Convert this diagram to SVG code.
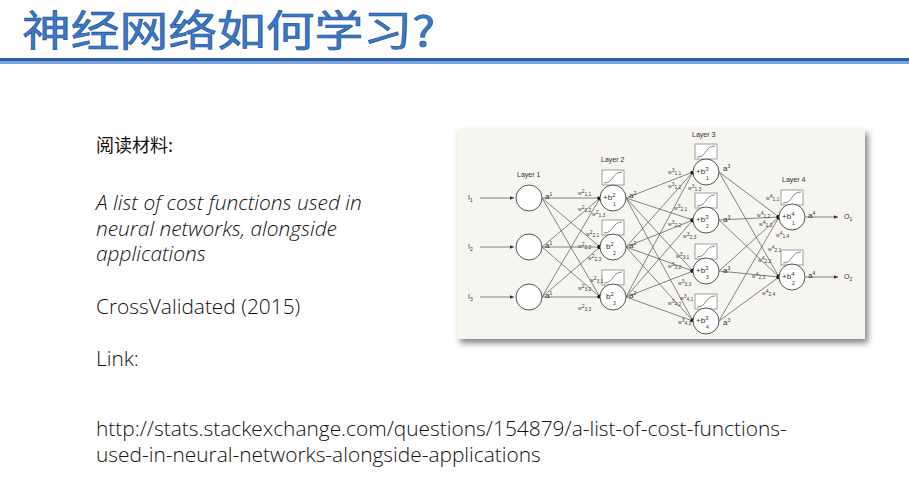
<svg xmlns="http://www.w3.org/2000/svg" width="909" height="490" viewBox="0 0 909 490">
<defs>
<style>
.t{font-family:"Open Sans","Noto Sans CJK SC",sans-serif;font-weight:300;font-size:20.9px;fill:#111}
.cn{font-family:"Noto Sans CJK SC",sans-serif;font-weight:400;font-size:18px;fill:#111}
.nn{font-family:"Liberation Sans",sans-serif;fill:#333}
.n{fill:#fff;stroke:#555;stroke-width:1}
.e{stroke:#666;stroke-width:0.8;fill:none}
.sb{fill:#fff;stroke:#888;stroke-width:0.8}
.w{font-family:"Liberation Sans",sans-serif;font-size:5px;fill:#444}
</style>
<marker id="ar" markerWidth="6" markerHeight="6" refX="5" refY="3" orient="auto"><path d="M0,0.8L5,3L0,5.2z" fill="#333"/></marker>
<marker id="dt" markerWidth="4" markerHeight="4" refX="3.5" refY="2" orient="auto"><circle cx="2" cy="2" r="1.8" fill="#111"/></marker>
<filter id="sh" x="-5%" y="-5%" width="115%" height="120%"><feGaussianBlur in="SourceAlpha" stdDeviation="3"/><feOffset dx="3" dy="4"/><feComponentTransfer><feFuncA type="linear" slope="0.5"/></feComponentTransfer><feMerge><feMergeNode/><feMergeNode in="SourceGraphic"/></feMerge></filter>
</defs>
<rect width="909" height="490" fill="#fff"/>
<g id="title">
<text x="22" y="46" font-family="'Noto Sans CJK SC',sans-serif" font-size="42" font-weight="400" fill="#3a78c9" stroke="#1f4e8c" stroke-width="0.6" textLength="413" lengthAdjust="spacingAndGlyphs">神经网络如何学习?</text>
<rect x="0" y="58" width="909" height="3" fill="#2d5fa8"/>
<rect x="0" y="61" width="909" height="3" fill="#7aa6dc"/>
</g>
<g id="text">
<text class="cn" x="96" y="152">阅读材料:</text>
<text class="t" x="96" y="210" font-style="italic">A list of cost functions used in</text>
<text class="t" x="96" y="236" font-style="italic">neural networks, alongside</text>
<text class="t" x="96" y="261" font-style="italic">applications</text>
<text class="t" x="96" y="314">CrossValidated (2015)</text>
<text class="t" x="96" y="366">Link:</text>
<text class="t" x="96" y="436">http://stats.stackexchange.com/questions/154879/a-list-of-cost-functions-</text>
<text class="t" x="96" y="462">used-in-neural-networks-alongside-applications</text>
</g>
<g id="figure">
<rect x="457" y="129" width="408" height="210" fill="#f6f5f0" filter="url(#sh)"/>
<g id="connectors">
<g class="e" marker-end="url(#dt)">
<path d="M480 198H514" marker-end="url(#ar)"/><path d="M480 247H514" marker-end="url(#ar)"/><path d="M480 297H514" marker-end="url(#ar)"/>
<path d="M542 198L600 198"/><path d="M542 198L600 247"/><path d="M542 198L600 297"/>
<path d="M542 247L600 198"/><path d="M542 247L600 247"/><path d="M542 247L600 297"/>
<path d="M542 297L600 198"/><path d="M542 297L600 247"/><path d="M542 297L600 297"/>
<path d="M626 198L693 172"/><path d="M626 198L693 220"/><path d="M626 198L693 271"/><path d="M626 198L693 321"/>
<path d="M626 247L693 172"/><path d="M626 247L693 220"/><path d="M626 247L693 271"/><path d="M626 247L693 321"/>
<path d="M626 297L693 172"/><path d="M626 297L693 220"/><path d="M626 297L693 271"/><path d="M626 297L693 321"/>
<path d="M719 172L779 217"/><path d="M719 172L779 277"/><path d="M719 220L779 217"/><path d="M719 220L779 277"/>
<path d="M719 271L779 217"/><path d="M719 271L779 277"/><path d="M719 321L779 217"/><path d="M719 321L779 277"/>
<path d="M805 217H838" marker-end="url(#ar)"/><path d="M805 277H838" marker-end="url(#ar)"/>
</g>
</g>
<g class="nn" font-size="7">
<text x="517" y="177">Layer 1</text><text x="601" y="162">Layer 2</text><text x="692" y="137">Layer 3</text><text x="782" y="182">Layer 4</text>
<text x="468" y="200">I<tspan font-size="5" dy="2">1</tspan></text>
<text x="468" y="249">I<tspan font-size="5" dy="2">2</tspan></text>
<text x="468" y="299">I<tspan font-size="5" dy="2">3</tspan></text>
<text x="844" y="219">O<tspan font-size="5" dy="2">1</tspan></text>
<text x="844" y="279">O<tspan font-size="5" dy="2">2</tspan></text>
</g>
<g id="sig" class="e">
<rect class="sb" x="602" y="170" width="22" height="15"/><rect class="sb" x="602" y="220" width="22" height="15"/><rect class="sb" x="602" y="270" width="22" height="15"/>
<rect class="sb" x="695" y="144" width="22" height="15"/><rect class="sb" x="695" y="193" width="22" height="15"/><rect class="sb" x="695" y="244" width="22" height="15"/><rect class="sb" x="695" y="294" width="22" height="15"/>
<rect class="sb" x="781" y="190" width="22" height="15"/><rect class="sb" x="781" y="250" width="22" height="15"/>
<path d="M604 183C614 183 612 172 622 172M604 233C614 233 612 222 622 222M604 283C614 283 612 272 622 272M697 157C707 157 705 146 715 146M697 206C707 206 705 195 715 195M697 257C707 257 705 246 715 246M697 307C707 307 705 296 715 296M783 203C793 203 791 192 801 192M783 263C793 263 791 252 801 252"/>
</g>
<g id="nodes">
<circle class="n" cx="529" cy="198" r="13"/><circle class="n" cx="529" cy="247" r="13"/><circle class="n" cx="529" cy="297" r="13"/>
<circle class="n" cx="613" cy="198" r="13"/><circle class="n" cx="613" cy="247" r="13"/><circle class="n" cx="613" cy="297" r="13"/>
<circle class="n" cx="706" cy="172" r="13"/><circle class="n" cx="706" cy="220" r="13"/><circle class="n" cx="706" cy="271" r="13"/><circle class="n" cx="706" cy="321" r="13"/>
<circle class="n" cx="792" cy="217" r="13"/><circle class="n" cx="792" cy="277" r="13"/>
</g>
<g class="nn" font-size="8">
<text x="603" y="200">+b<tspan font-size="6" dy="-3">2</tspan></text><text x="606" y="249">b<tspan font-size="6" dy="-3">2</tspan></text><text x="606" y="299">b<tspan font-size="6" dy="-3">2</tspan></text>
<text x="696" y="174">+b<tspan font-size="6" dy="-3">3</tspan></text><text x="696" y="222">+b<tspan font-size="6" dy="-3">3</tspan></text><text x="696" y="273">+b<tspan font-size="6" dy="-3">3</tspan></text><text x="696" y="323">+b<tspan font-size="6" dy="-3">3</tspan></text>
<text x="782" y="219">+b<tspan font-size="6" dy="-3">4</tspan></text><text x="782" y="279">+b<tspan font-size="6" dy="-3">4</tspan></text>
<g font-size="5"><text x="613" y="206">1</text><text x="613" y="255">2</text><text x="613" y="305">3</text><text x="706" y="180">1</text><text x="706" y="228">2</text><text x="706" y="279">3</text><text x="706" y="329">4</text><text x="792" y="225">1</text><text x="792" y="285">2</text></g>
<text x="545" y="199">a<tspan font-size="5" dy="-3">1</tspan></text><text x="545" y="248">a<tspan font-size="5" dy="-3">1</tspan></text><text x="545" y="298">a<tspan font-size="5" dy="-3">1</tspan></text>
<text x="629" y="198">a<tspan font-size="5" dy="-3">2</tspan></text><text x="629" y="248">a<tspan font-size="5" dy="-3">2</tspan></text><text x="629" y="298">a<tspan font-size="5" dy="-3">2</tspan></text>
<text x="723" y="171">a<tspan font-size="5" dy="-3">3</tspan></text><text x="723" y="222">a<tspan font-size="5" dy="-3">3</tspan></text><text x="723" y="273">a<tspan font-size="5" dy="-3">3</tspan></text><text x="723" y="325">a<tspan font-size="5" dy="-3">3</tspan></text>
<text x="808" y="218">a<tspan font-size="5" dy="-3">4</tspan></text><text x="808" y="278">a<tspan font-size="5" dy="-3">4</tspan></text>
</g>
<g class="w">
<text x="578" y="195">w<tspan dy="-2">2</tspan><tspan dy="3">1,1</tspan></text><text x="578" y="211">w<tspan dy="-2">2</tspan><tspan dy="3">1,2</tspan></text><text x="592" y="216">w<tspan dy="-2">2</tspan><tspan dy="3">1,3</tspan></text>
<text x="586" y="236">w<tspan dy="-2">2</tspan><tspan dy="3">2,1</tspan></text><text x="578" y="248">w<tspan dy="-2">2</tspan><tspan dy="3">2,2</tspan></text><text x="588" y="260">w<tspan dy="-2">2</tspan><tspan dy="3">2,3</tspan></text>
<text x="590" y="282">w<tspan dy="-2">2</tspan><tspan dy="3">3,1</tspan></text><text x="578" y="290">w<tspan dy="-2">2</tspan><tspan dy="3">3,2</tspan></text><text x="578" y="310">w<tspan dy="-2">2</tspan><tspan dy="3">3,3</tspan></text>
<text x="668" y="174">w<tspan dy="-2">3</tspan><tspan dy="3">1,1</tspan></text><text x="668" y="188">w<tspan dy="-2">3</tspan><tspan dy="3">1,2</tspan></text><text x="688" y="190">w<tspan dy="-2">3</tspan><tspan dy="3">1,3</tspan></text>
<text x="674" y="210">w<tspan dy="-2">3</tspan><tspan dy="3">2,1</tspan></text><text x="668" y="226">w<tspan dy="-2">3</tspan><tspan dy="3">2,2</tspan></text><text x="683" y="238">w<tspan dy="-2">3</tspan><tspan dy="3">2,3</tspan></text>
<text x="676" y="258">w<tspan dy="-2">3</tspan><tspan dy="3">3,1</tspan></text><text x="668" y="268">w<tspan dy="-2">3</tspan><tspan dy="3">3,2</tspan></text><text x="678" y="285">w<tspan dy="-2">3</tspan><tspan dy="3">3,3</tspan></text>
<text x="668" y="305">w<tspan dy="-2">3</tspan><tspan dy="3">4,2</tspan></text><text x="680" y="300">w<tspan dy="-2">3</tspan><tspan dy="3">4,1</tspan></text><text x="678" y="324">w<tspan dy="-2">3</tspan><tspan dy="3">4,3</tspan></text>
<text x="766" y="200">w<tspan dy="-2">4</tspan><tspan dy="3">1,1</tspan></text><text x="757" y="217">w<tspan dy="-2">4</tspan><tspan dy="3">1,2</tspan></text><text x="759" y="226">w<tspan dy="-2">4</tspan><tspan dy="3">1,3</tspan></text><text x="776" y="237">w<tspan dy="-2">4</tspan><tspan dy="3">1,4</tspan></text>
<text x="768" y="251">w<tspan dy="-2">4</tspan><tspan dy="3">2,1</tspan></text><text x="758" y="262">w<tspan dy="-2">4</tspan><tspan dy="3">2,2</tspan></text><text x="752" y="278">w<tspan dy="-2">4</tspan><tspan dy="3">2,3</tspan></text><text x="762" y="295">w<tspan dy="-2">4</tspan><tspan dy="3">2,4</tspan></text>
</g>
</g>
</svg>
